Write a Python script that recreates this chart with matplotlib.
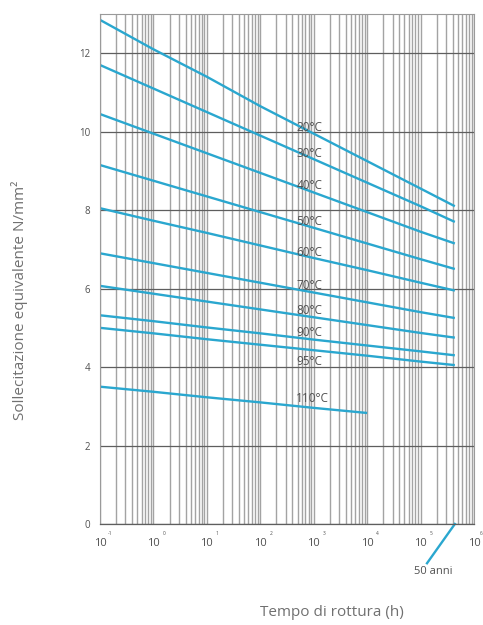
import matplotlib.pyplot as plt
import numpy as np

plt.rcParams['font.family'] = ['Open Sans', 'DejaVu Sans']

LINE_COLOR = '#2aa7cf'
TEXT_COLOR = '#505050'
LABEL_COLOR = '#707070'

# rupture time (h), last point = 50 years
times = [0.1, 1, 10, 100, 1000, 1e4, 1e5, 4.38e5]
temps = ['20°C', '30°C', '40°C', '50°C', '60°C', '70°C', '80°C', '90°C', '95°C']
stress = [
    [12.85, 12.1, 11.4, 10.65, 9.95, 9.25, 8.55, 8.1],
    [11.7, 11.1, 10.5, 9.9, 9.3, 8.7, 8.1, 7.7],
    [10.45, 9.95, 9.45, 8.95, 8.45, 7.95, 7.45, 7.15],
    [9.15, 8.75, 8.35, 7.95, 7.55, 7.15, 6.75, 6.5],
    [8.05, 7.73, 7.42, 7.1, 6.78, 6.47, 6.15, 5.95],
    [6.9, 6.65, 6.4, 6.15, 5.9, 5.65, 5.4, 5.25],
    [6.07, 5.87, 5.67, 5.47, 5.27, 5.07, 4.87, 4.75],
    [5.32, 5.17, 5.01, 4.86, 4.7, 4.55, 4.4, 4.3],
    [5.0, 4.86, 4.71, 4.57, 4.43, 4.29, 4.14, 4.05],
]
times_110 = [0.1, 1, 10, 100, 1000, 1e4]
stress_110 = [3.5, 3.37, 3.23, 3.1, 2.96, 2.83]

label_x = 470
label_y = [10.1, 9.45, 8.64, 7.7, 6.93, 6.09, 5.45, 4.87, 4.15]
label_y_110 = 3.2

decades = [-1, 0, 1, 2, 3, 4, 5, 6]

fig = plt.figure(figsize=(4.83, 6.25), dpi=100)
ax = fig.add_axes([100 / 483, 1 - 524 / 625, 374 / 483, 510 / 625])

ax.set_xscale('log')
ax.set_xlim(0.1, 1e6)
ax.set_ylim(0, 13)

# grid
ax.xaxis.set_minor_locator(plt.LogLocator(base=10, subs=np.arange(2, 10)))
ax.grid(True, which='both', axis='x', color='#a3a3a3', linewidth=1.0)
ax.set_yticks([0, 2, 4, 6, 8, 10, 12])
ax.grid(True, which='major', axis='y', color='#5e5e5e', linewidth=0.9)
ax.set_axisbelow(True)

for side in ['left', 'top', 'right']:
    ax.spines[side].set_color('#9a9a9a')
    ax.spines[side].set_linewidth(0.8)
ax.spines['bottom'].set_color('#5e5e5e')
ax.spines['bottom'].set_linewidth(0.9)

for s in stress:
    ax.plot(times, s, color=LINE_COLOR, linewidth=1.7, solid_capstyle='butt')
ax.plot(times_110, stress_110, color=LINE_COLOR, linewidth=1.7, solid_capstyle='butt')

for t, y in zip(temps, label_y):
    ax.text(label_x, y, t, color=TEXT_COLOR, fontsize=8.5, ha='left', va='center')
ax.text(label_x, label_y_110, '110°C', color=TEXT_COLOR, fontsize=8.5, ha='left', va='center')

# ticks
ax.tick_params(axis='both', which='both', length=0, colors=TEXT_COLOR, labelsize=7)
ax.tick_params(axis='y', pad=7)
ax.tick_params(axis='x', pad=10, labelsize=8)
ax.set_xticks([10.0 ** e for e in decades])
ax.set_xticklabels(['10'] * len(decades))
for e in decades:
    dx = 7.5 if e < 6 else 5
    ax.annotate(str(e), xy=(10.0 ** e, 0), xytext=(dx, -6.5), textcoords='offset points',
                ha='center', va='center', fontsize=3.5, color=TEXT_COLOR,
                annotation_clip=False)

# 50 years marker
ax.plot([4.38e5, 1.32e5], [0, -1.0], color=LINE_COLOR, linewidth=1.7, clip_on=False)
ax.text(1.7e5, -1.2, '50 anni', ha='center', va='center', fontsize=8,
        color=TEXT_COLOR)

fig.text(20 / 483, 1 - 300 / 625, 'Sollecitazione equivalente N/mm²', rotation=90,
         ha='center', va='center', fontsize=11, color=LABEL_COLOR)
fig.text(332 / 483, 1 - 612 / 625, 'Tempo di rottura (h)', ha='center', va='center',
         fontsize=11, color=LABEL_COLOR)

plt.savefig('out.png', dpi=100, facecolor='white')
plt.close()
